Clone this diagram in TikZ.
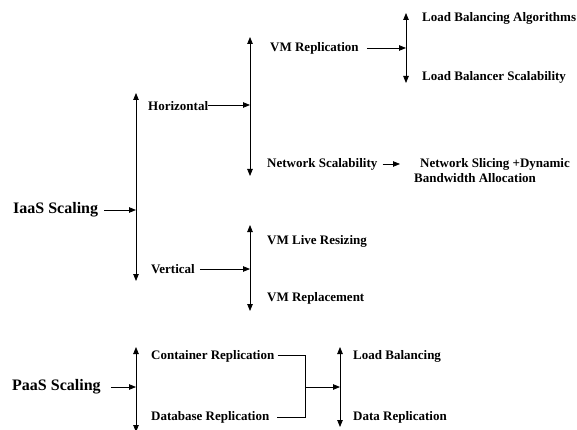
\documentclass[tikz,border=0pt]{standalone}
\usepackage{fontspec}
\setmainfont{Liberation Serif}
\usetikzlibrary{arrows.meta}
\begin{document}
\begin{tikzpicture}[x=1pt,y=-1pt,
  lbl/.style={anchor=west,inner sep=0pt,font=\bfseries\fontsize{13}{15}\selectfont},
  big/.style={anchor=west,inner sep=0pt,font=\bfseries\fontsize{16}{18}\selectfont},
  arr/.style={-{Triangle[length=7pt,width=5.5pt]},line width=0.8pt},
  barr/.style={{Triangle[length=7pt,width=5.5pt]}-{Triangle[length=7pt,width=5.5pt]},line width=0.8pt},
  ln/.style={line width=0.8pt}]
\useasboundingbox (0,0) rectangle (577,430);
% bars
\coordinate (b1t) at (136,93);  \coordinate (b1b) at (136,281);
\coordinate (b2t) at (250,37);  \coordinate (b2b) at (250,176);
\coordinate (b3t) at (406,13);  \coordinate (b3b) at (406,83);
\coordinate (b4t) at (250,225); \coordinate (b4b) at (250,311);
\coordinate (b5t) at (136,347); \coordinate (b5b) at (136,432);
\coordinate (b6t) at (340,347); \coordinate (b6b) at (340,427);
\draw[barr] (b1t) -- (b1b);
\draw[barr] (b2t) -- (b2b);
\draw[barr] (b3t) -- (b3b);
\draw[barr] (b4t) -- (b4b);
\draw[barr] (b5t) -- (b5b);
\draw[barr] (b6t) -- (b6b);
% labels
\node[big] (iaas) at (13,210) {IaaS Scaling};
\node[lbl] (hor) at (148,106) {Horizontal};
\node[lbl] (ver) at (151,269) {Vertical};
\node[lbl] (vmr) at (270,48) {VM Replication};
\node[lbl] (nsc) at (267,164) {Network Scalability};
\node[lbl] (vmlr) at (267,241) {VM Live Resizing};
\node[lbl] (vmrp) at (267,298) {VM Replacement};
\node[lbl] (lba) at (422,18) {Load Balancing Algorithms};
\node[lbl] (lbs) at (422,77) {Load Balancer Scalability};
\node[lbl,align=left] (nsd) at (414,171) {\hspace*{6pt}Network Slicing +Dynamic\\Bandwidth Allocation};
\node[big] (paas) at (12,387) {PaaS Scaling};
\node[lbl] (cr) at (151,356) {Container Replication};
\node[lbl] (dr) at (151,417) {Database Replication};
\node[lbl] (lb) at (353,356) {Load Balancing};
\node[lbl] (dar) at (353,417) {Data Replication};
% connectors
\draw[arr] ([xshift=6pt]iaas.east) -- (iaas.east -| b1t);
\draw[arr] ([yshift=1pt]hor.east) -- ([yshift=1pt]hor.east -| b2t);
\draw[arr] ([xshift=5pt]ver.east) -- (ver.east -| b4t);
\draw[arr] ([xshift=8pt]vmr.east) -- (vmr.east -| b3t);
\coordinate (nse) at (400,164);
\draw[arr] ([xshift=5pt]nsc.east) -- (nse);
\draw[arr] ([xshift=10pt]paas.east) -- (paas.east -| b5t);
\coordinate (jn) at (305,387);
\draw[ln] ([xshift=3pt,yshift=1pt]cr.east) -| (jn);
\draw[ln] ([xshift=8pt]dr.east) -| (jn);
\draw[arr] (jn) -- (jn -| b6t);
\end{tikzpicture}
\end{document}
